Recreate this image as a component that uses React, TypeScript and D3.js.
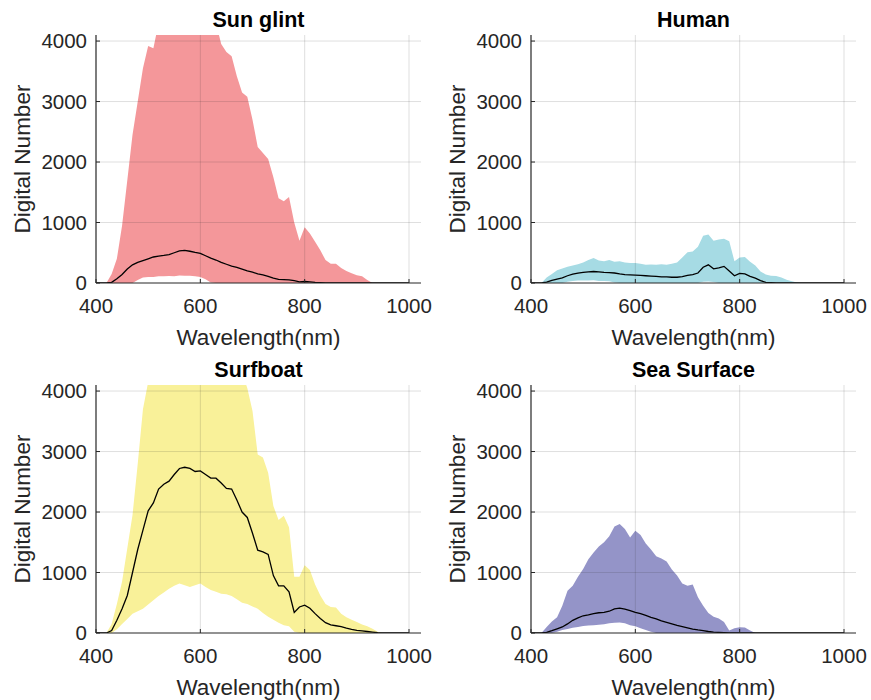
import React from "react";
import * as d3 from "d3";

const wavelengths = d3.range(400, 1001, 10);

const sunUpper = [0,0,0,150,400,950,1700,2450,3000,3550,3920,3880,4300,4300,4300,4300,4300,4300,4300,4300,4300,4300,4300,4300,3950,3820,3750,3420,3150,3080,2700,2250,2150,2050,1750,1400,1350,1420,1000,700,920,820,680,540,380,320,320,250,200,160,130,110,50,0,0,0,0,0,0,0,0];
const sunLower = [0,0,0,0,0,0,0,0,50,90,100,100,110,110,115,110,125,120,120,110,100,60,10,0,0,0,0,0,0,0,0,0,0,0,0,0,0,0,0,0,0,0,0,0,0,0,0,0,0,0,0,0,0,0,0,0,0,0,0,0,0];
const sunMean = [0,0,0,10,70,140,230,300,340,370,400,430,445,455,470,500,530,540,525,505,490,450,410,380,340,310,280,260,230,200,180,150,135,110,80,60,55,50,40,20,25,20,10,5,0,0,0,0,0,0,0,0,0,0,0,0,0,0,0,0,0];

const humanUpper = [0,0,0,90,150,210,240,270,290,310,340,380,415,370,360,380,350,360,340,330,330,320,300,305,300,310,300,320,340,420,510,520,600,780,800,700,720,730,690,360,420,430,350,290,190,140,120,115,90,55,30,10,0,0,0,0,0,0,0,0,0];
const humanLower = [0,0,0,0,0,0,0,20,35,40,40,40,45,35,35,30,10,0,0,0,0,0,0,0,0,0,0,0,0,0,0,0,0,20,25,15,0,0,0,0,0,0,0,0,0,0,0,0,0,0,0,0,0,0,0,0,0,0,0,0,0];
const humanMean = [0,0,0,15,45,65,85,120,145,165,175,185,190,185,175,170,165,150,140,135,130,125,120,115,110,100,100,95,95,105,125,140,165,260,300,235,250,275,200,120,160,150,110,80,40,10,5,0,0,0,0,0,0,0,0,0,0,0,0,0,0];

const boatUpper = [0,0,0,150,480,850,1400,1950,2800,3700,4150,4300,4300,4300,4300,4300,4300,4300,4300,4300,4300,4300,4300,4300,4300,4300,4300,4300,4300,4050,3670,2950,2900,2650,2100,1870,1940,1750,930,930,1120,1040,800,620,480,430,420,320,260,220,180,140,110,70,20,0,0,0,0,0,0];
const boatLower = [0,0,0,0,60,150,230,320,360,400,470,540,610,670,730,780,820,790,760,790,820,760,710,680,650,640,610,560,500,480,440,400,330,270,220,170,130,110,20,0,0,0,0,0,0,0,0,0,0,0,0,0,0,0,0,0,0,0,0,0,0];
const boatMean = [0,0,0,40,210,400,620,1000,1380,1700,2020,2150,2380,2460,2510,2620,2720,2740,2720,2670,2680,2620,2560,2560,2480,2390,2380,2200,2000,1910,1650,1370,1340,1300,950,780,780,680,340,430,460,410,320,240,170,135,120,105,80,60,45,35,25,15,5,0,0,0,0,0,0];

const seaUpper = [0,0,0,100,190,260,450,700,780,930,1060,1220,1330,1430,1500,1600,1760,1800,1720,1580,1690,1620,1480,1380,1270,1230,1180,1050,950,820,780,800,590,450,330,270,240,180,40,80,95,90,40,0,0,0,0,0,0,0,0,0,0,0,0,0,0,0,0,0,0];
const seaLower = [0,0,0,0,0,20,50,65,85,100,115,125,130,135,145,160,170,175,160,130,110,80,50,20,0,0,0,0,0,0,0,0,0,0,0,0,0,0,0,0,0,0,0,0,0,0,0,0,0,0,0,0,0,0,0,0,0,0,0,0,0];
const seaMean = [0,0,0,10,38,70,100,150,210,250,285,300,320,335,340,360,400,410,395,370,340,320,290,260,235,200,175,150,125,105,85,65,50,40,25,15,10,5,0,0,0,0,0,0,0,0,0,0,0,0,0,0,0,0,0,0,0,0,0,0,0];

const titles = ["Sun glint", "Human", "Surfboat", "Sea Surface"];
const fills = ["#f4979a", "#a6dbe4", "#f9f199", "#9494c8"];
const uppers = [sunUpper, humanUpper, boatUpper, seaUpper];
const lowers = [sunLower, humanLower, boatLower, seaLower];
const means = [sunMean, humanMean, boatMean, seaMean];

const xTicks = [400, 600, 800, 1000];
const yTicks = [0, 1000, 2000, 3000, 4000];

const FONT = "Liberation Sans, Arial, Helvetica, sans-serif";
const AX = "#262626";

function Panel({ idx, left, top }: { idx: number; left: number; top: number }) {
  const w = 325, h = 248;
  const x = d3.scaleLinear().domain([400, 1023]).range([left, left + w]);
  const y = d3.scaleLinear().domain([0, 4100]).range([top + h, top]);
  const up = uppers[idx], lo = lowers[idx], mn = means[idx];
  const area = d3.area<number>()
    .x((_, i) => x(wavelengths[i]))
    .y0((_, i) => y(lo[i]))
    .y1((_, i) => y(up[i]));
  const line = d3.line<number>()
    .x((_, i) => x(wavelengths[i]))
    .y((d) => y(d));
  const clipId = `clip${idx}`;
  return (
    <g>
      <defs>
        <clipPath id={clipId}>
          <rect x={left} y={top} width={w} height={h} />
        </clipPath>
      </defs>
      <g clipPath={`url(#${clipId})`}>
        <path d={area(up) || ""} fill={fills[idx]} stroke="none" />
        <path d={line(mn) || ""} fill="none" stroke="#000" strokeWidth={1.3} />
      </g>
      {yTicks.slice(1).map((t) => (
        <line key={"gy" + t} x1={left} x2={left + w} y1={y(t)} y2={y(t)} stroke={AX} strokeOpacity={0.15} />
      ))}
      {xTicks.slice(1).map((t) => (
        <line key={"gx" + t} x1={x(t)} x2={x(t)} y1={top} y2={top + h} stroke={AX} strokeOpacity={0.15} />
      ))}
      <line x1={left} x2={left + w} y1={top + h} y2={top + h} stroke={AX} strokeWidth={1.2} />
      <line x1={left} x2={left} y1={top} y2={top + h} stroke={AX} strokeWidth={1.2} />
      {xTicks.map((t) => (
        <g key={"xt" + t}>
          <line x1={x(t)} x2={x(t)} y1={top + h} y2={top + h - 4} stroke={AX} />
          <text x={x(t)} y={top + h + 30} textAnchor="middle" fontSize={20.5} fill={AX} fontFamily={FONT}>{t}</text>
        </g>
      ))}
      {yTicks.map((t) => (
        <g key={"yt" + t}>
          <line x1={left} x2={left + 4} y1={y(t)} y2={y(t)} stroke={AX} />
          <text x={left - 9} y={y(t) + 7} textAnchor="end" fontSize={20.5} fill={AX} fontFamily={FONT}>{t}</text>
        </g>
      ))}
      <text x={left + w / 2} y={top + h + 62} textAnchor="middle" fontSize={22.5} fill={AX} fontFamily={FONT}>Wavelength(nm)</text>
      <text transform={`translate(${left - 66},${top + h / 2}) rotate(-90)`} textAnchor="middle" fontSize={22.5} fill={AX} fontFamily={FONT}>Digital Number</text>
      <text x={left + w / 2} y={top - 8} textAnchor="middle" fontSize={21.5} fontWeight="bold" fill="#000" fontFamily={FONT}>{titles[idx]}</text>
    </g>
  );
}

export default function App() {
  return (
    <svg width={871} height={700} style={{ position: "absolute", left: 0, top: 0, background: "#fff" }}>
      <rect width={871} height={700} fill="#fff" />
      <Panel idx={0} left={96} top={35} />
      <Panel idx={1} left={531} top={35} />
      <Panel idx={2} left={96} top={385} />
      <Panel idx={3} left={531} top={385} />
    </svg>
  );
}
